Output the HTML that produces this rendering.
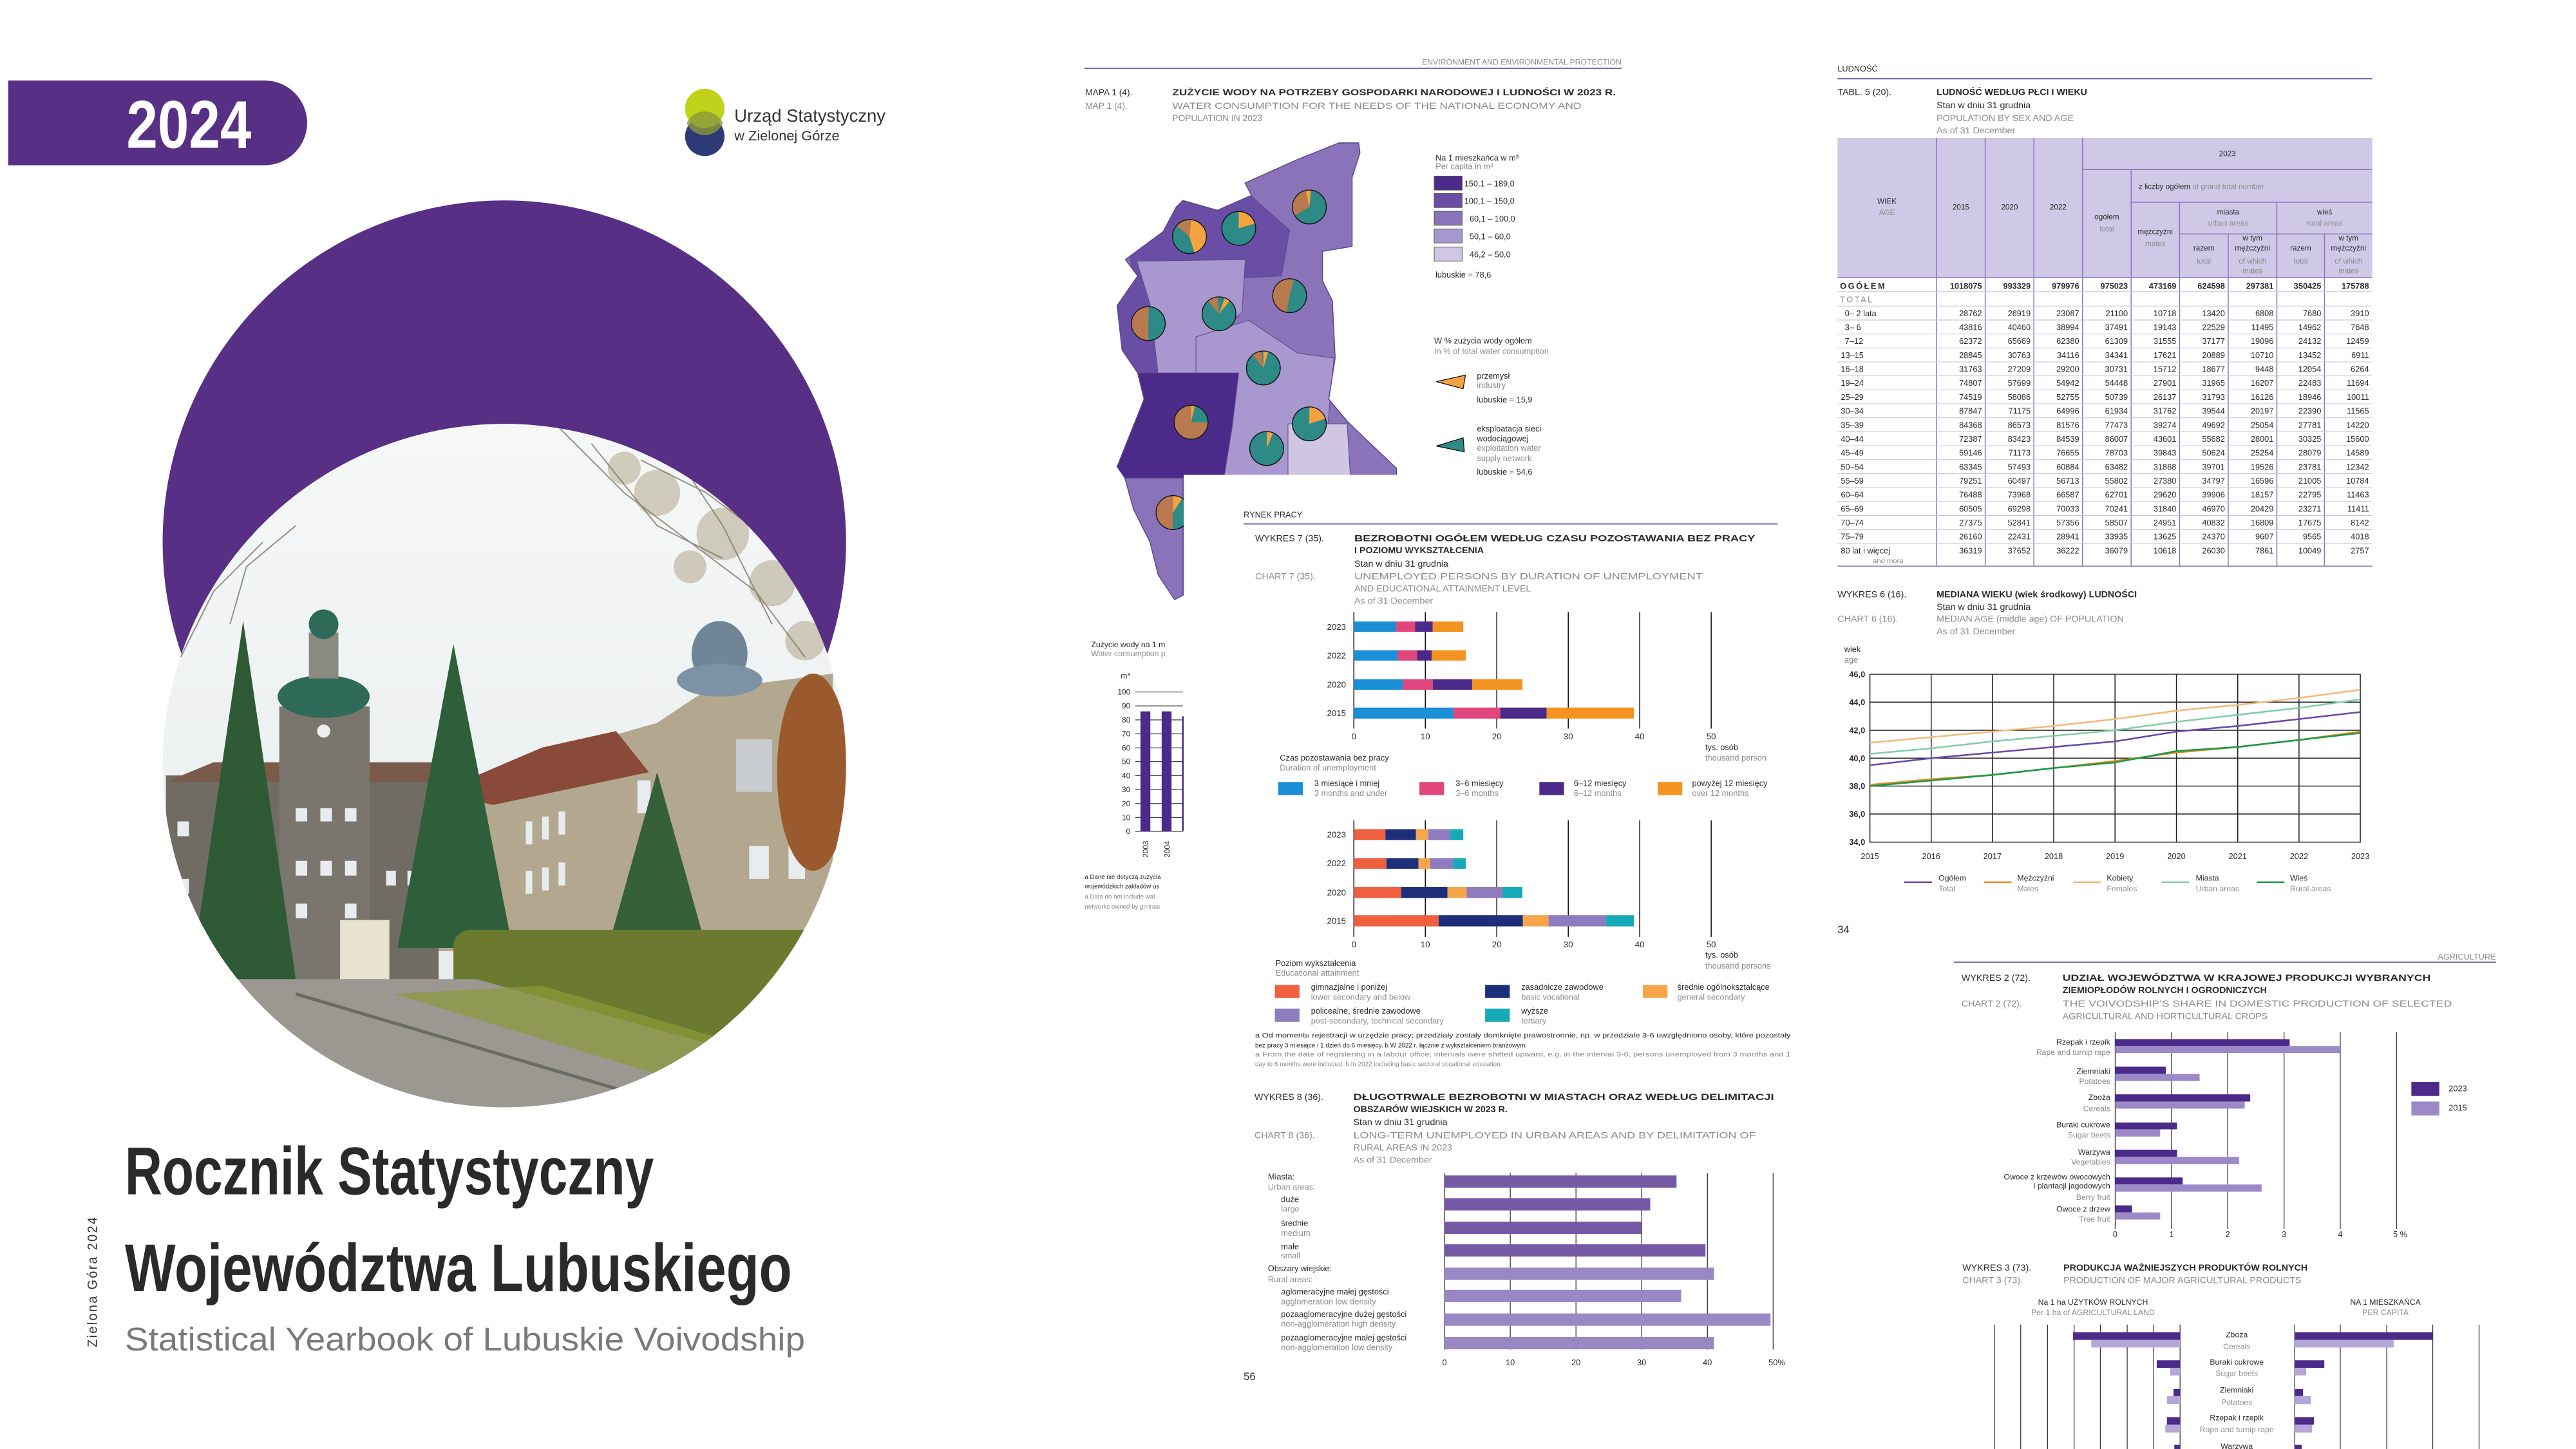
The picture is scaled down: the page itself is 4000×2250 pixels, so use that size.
<!DOCTYPE html>
<html><head><meta charset="utf-8"><style>
html,body{margin:0;padding:0;background:#fff;}
svg{display:block;}
text{font-family:"Liberation Sans",sans-serif;}
.d{fill:#2a2a2a;}
.e{fill:#8a8a8a;}
.b{font-weight:bold;fill:#2a2a2a;}
</style></head><body>
<svg width="4000" height="2250" viewBox="0 0 1568 882" xmlns="http://www.w3.org/2000/svg">
<defs>
<clipPath id="ph"><circle cx="307" cy="466" r="208"/></clipPath>
<clipPath id="mapc"><polygon points="815,87 827,87 827.8,93 823,108 823,150 805,153 805,171 811,183 812.7,218 808.8,243 820.6,257 831,267 850,285 850,292 720.6,292 720.6,362 715,365 705,350 700,330 690,310 684.7,291 680,284 696.4,243 692.5,227 683,213 680,186 692.5,168 685,158 708,141 716,126 720,122 741,128 761.8,118.9 757.8,111.4 790,97"/></clipPath>
<linearGradient id="sky" x1="0" y1="0" x2="0" y2="1"><stop offset="0" stop-color="#f6f8f8"/><stop offset="1" stop-color="#e6eaea"/></linearGradient>
</defs>
<rect width="1568" height="882" fill="#fff"/>

<!-- Banner -->
<path d="M5 49 H161 A26 26 0 0 1 187 75 A26 26 0 0 1 161 100.6 H5 Z" fill="#572f84"/>
<text x="77" y="90" font-size="41" font-weight="bold" fill="#fff" textLength="76" lengthAdjust="spacingAndGlyphs">2024</text>

<!-- Logo -->
<circle cx="429" cy="83" r="12" fill="#2e3a78"/>
<circle cx="429" cy="66" r="12" fill="#c0d31a"/>
<path d="M418 75 A12 12 0 0 1 440 75 A12 12 0 0 1 418 75Z" fill="#8a9a3a" opacity="0.8"/>
<text x="447" y="74" font-size="11" fill="#333" textLength="92" lengthAdjust="spacingAndGlyphs">Urząd Statystyczny</text>
<text x="447" y="85.5" font-size="8.5" fill="#333" textLength="64" lengthAdjust="spacingAndGlyphs">w Zielonej Górze</text>

<!-- Purple circle -->
<circle cx="307" cy="330" r="208" fill="#572f84"/>

<!-- Photo -->
<g clip-path="url(#ph)">
<rect x="95" y="255" width="425" height="425" fill="url(#sky)"/>
<g stroke="#5a5040" stroke-width="0.8" fill="none" opacity="0.6">
<path d="M340 260 L380 300 L420 330 L460 360 L490 400"/><path d="M360 270 L400 320 L440 340"/><path d="M390 280 L430 300 L470 330 L500 350"/><path d="M420 290 L440 320 L470 380"/><path d="M160 330 L130 360 L110 400"/><path d="M180 320 L150 345 L140 380"/>
</g>
<g fill="#8a7a50" opacity="0.35">
<circle cx="400" cy="300" r="14"/><circle cx="440" cy="325" r="16"/><circle cx="470" cy="355" r="14"/><circle cx="420" cy="345" r="10"/><circle cx="380" cy="285" r="10"/><circle cx="490" cy="390" r="12"/>
</g>
<!-- left building -->
<rect x="101" y="472" width="166" height="124" fill="#706c64"/>
<polygon points="101,476 130,464 267,464 267,476" fill="#7a5a4a"/>
<!-- tower -->
<rect x="170" y="430" width="55" height="166" fill="#7a766e"/>
<ellipse cx="197" cy="424" rx="28" ry="13" fill="#2f6a58"/>
<rect x="188" y="385" width="18" height="28" fill="#8a8a80"/>
<ellipse cx="197" cy="380" rx="9" ry="9" fill="#2f6a58"/>
<circle cx="197" cy="445" r="4" fill="#eee"/>
<!-- right building -->
<polygon points="267,480 330,460 400,440 430,420 507,410 507,579 267,579" fill="#b3a88f"/>
<polygon points="267,482 330,455 375,445 395,470 300,490" fill="#8a4a3a"/>
<ellipse cx="438" cy="398" rx="17" ry="20" fill="#6f8598"/>
<ellipse cx="438" cy="414" rx="26" ry="10" fill="#7d92a4"/>
<g fill="#e8ecee">
<rect x="108" y="500" width="7" height="9"/><rect x="108" y="535" width="7" height="9"/><rect x="180" y="492" width="7" height="8"/><rect x="195" y="492" width="7" height="8"/><rect x="210" y="492" width="7" height="8"/>
<rect x="180" y="524" width="7" height="9"/><rect x="195" y="524" width="7" height="9"/><rect x="210" y="524" width="7" height="9"/>
<rect x="180" y="550" width="7" height="9"/><rect x="210" y="550" width="7" height="9"/>
<rect x="235" y="530" width="6" height="9"/><rect x="248" y="530" width="6" height="9"/><rect x="248" y="555" width="6" height="9"/>
<rect x="285" y="510" width="4" height="12"/><rect x="295" y="508" width="4" height="12"/><rect x="285" y="540" width="4" height="12"/><rect x="295" y="538" width="4" height="12"/>
<rect x="320" y="500" width="4" height="14"/><rect x="330" y="497" width="4" height="14"/><rect x="340" y="494" width="4" height="14"/>
<rect x="320" y="530" width="4" height="14"/><rect x="330" y="528" width="4" height="14"/><rect x="340" y="525" width="4" height="14"/>
<rect x="388" y="475" width="8" height="20"/><rect x="456" y="515" width="12" height="20"/><rect x="480" y="515" width="10" height="20"/>
<rect x="448" y="450" width="22" height="32" fill="#c8ccd0"/>
</g>
<!-- trees -->
<polygon points="148,378 180,596 116,596" fill="#2e5a36"/>
<polygon points="276,392 312,577 242,577" fill="#2f5e3a"/>
<polygon points="400,470 428,570 372,570" fill="#35603a"/>
<ellipse cx="495" cy="470" rx="22" ry="60" fill="#9a5a2e"/>
<rect x="207" y="560" width="30" height="36" fill="#e8e2d0"/>
<!-- hedge + ground -->
<rect x="276" y="566" width="230" height="74" rx="10" fill="#6b7a2e"/>
<polygon points="95,596 290,596 520,660 520,690 95,690" fill="#9a9890"/>
<polygon points="240,605 330,600 500,650 420,660" fill="#8c9a3a" opacity="0.7"/>
<path d="M180 605 L400 670" stroke="#6a6a66" stroke-width="2"/>
</g>

<!-- Titles -->
<text x="76" y="727" font-size="41" font-weight="bold" fill="#2a2a2a" textLength="322" lengthAdjust="spacingAndGlyphs">Rocznik Statystyczny</text>
<text x="76" y="786" font-size="41" font-weight="bold" fill="#2a2a2a" textLength="406" lengthAdjust="spacingAndGlyphs">Województwa Lubuskiego</text>
<text x="76" y="822" font-size="20" fill="#7a7a7a" textLength="414" lengthAdjust="spacingAndGlyphs">Statistical Yearbook of Lubuskie Voivodship</text>
<text transform="translate(59,820) rotate(-90)" font-size="8.5" fill="#333" textLength="80" lengthAdjust="spacingAndGlyphs" letter-spacing="1">Zielona Góra 2024</text>

<!-- ================= MAP PAGE ================= -->
<line x1="660" y1="41.6" x2="987" y2="41.6" stroke="#7a66b0" stroke-width="0.8"/>
<text x="987" y="39.5" font-size="4.8" class="e" text-anchor="end">ENVIRONMENT AND ENVIRONMENTAL PROTECTION</text>
<text x="660.6" y="58" font-size="5.4" class="d">MAPA 1 (4).</text>
<text x="660.6" y="66.3" font-size="5.4" class="e">MAP 1 (4).</text>
<text x="713.6" y="58" font-size="5.4" class="b" textLength="270" lengthAdjust="spacingAndGlyphs">ZUŻYCIE WODY NA POTRZEBY GOSPODARKI NARODOWEJ I LUDNOŚCI W 2023 R.</text>
<text x="713.6" y="66.3" font-size="5.4" class="e" textLength="249" lengthAdjust="spacingAndGlyphs">WATER CONSUMPTION FOR THE NEEDS OF THE NATIONAL ECONOMY AND</text>
<text x="713.6" y="73.7" font-size="5.4" class="e">POPULATION IN 2023</text>

<!-- map -->
<g clip-path="url(#mapc)" stroke="#5a4a8a" stroke-width="0.4">
<rect x="670" y="80" width="190" height="300" fill="#8a73b9"/>
<polygon points="680,118 760,118 785,140 780,168 740,170 690,168" fill="#6a4ea6"/>
<polygon points="680,168 726,168 730,243 680,243" fill="#6a4ea6"/>
<polygon points="692,159 758,158 756,190 740,205 728,228 705,228 700,185" fill="#a898cf"/>
<polygon points="728,205 760,195 790,215 812,218 809,250 806,288 745,292 735,260 728,230" fill="#a898cf"/>
<polygon points="680,227 754,227 750,260 745,291 680,291" fill="#4b2a8a"/>
<polygon points="784,258 820,258 822,291 784,291" fill="#cfc6e3"/>
<polygon points="680,291 720,291 720,370 680,370" fill="#8a73b9"/>
</g>
<polygon points="815,87 827,87 827.8,93 823,108 823,150 805,153 805,171 811,183 812.7,218 808.8,243 820.6,257 831,267 850,285 850,292 720.6,292 720.6,362 715,365 705,350 700,330 690,310 684.7,291 680,284 696.4,243 692.5,227 683,213 680,186 692.5,168 685,158 708,141 716,126 720,122 741,128 761.8,118.9 757.8,111.4 790,97" fill="none" stroke="#5a4a8a" stroke-width="0.6"/>
<!-- pies -->
<g stroke="#111" stroke-width="0.5">
<g transform="translate(797,126)"><circle r="10.3" fill="#2e8a86"/><circle r="5.15" fill="none" stroke="#b87a4e" stroke-width="10.3" stroke-dasharray="9.7 40" transform="rotate(150)"/><circle r="5.15" fill="none" stroke="#f5a340" stroke-width="10.3" stroke-dasharray="1.6 40" transform="rotate(258)"/><circle r="10.3" fill="none"/></g>
<g transform="translate(754,139)"><circle r="10.3" fill="#2e8a86"/><circle r="5.15" fill="none" stroke="#f5a340" stroke-width="10.3" stroke-dasharray="6.5 40" transform="rotate(-90)"/><circle r="10.3" fill="none"/></g>
<g transform="translate(724,144)"><circle r="10.3" fill="#2e8a86"/><circle r="5.15" fill="none" stroke="#f5a340" stroke-width="10.3" stroke-dasharray="14.5 40" transform="rotate(-90)"/><circle r="5.15" fill="none" stroke="#b87a4e" stroke-width="10.3" stroke-dasharray="5 40" transform="rotate(220)"/><circle r="10.3" fill="none"/></g>
<g transform="translate(785,180)"><circle r="10.3" fill="#2e8a86"/><circle r="5.15" fill="none" stroke="#b87a4e" stroke-width="10.3" stroke-dasharray="16.5 40" transform="rotate(100)"/><circle r="10.3" fill="none"/></g>
<g transform="translate(742,191)"><circle r="10.3" fill="#2e8a86"/><circle r="5.15" fill="none" stroke="#b87a4e" stroke-width="10.3" stroke-dasharray="3.2 40" transform="rotate(230)"/><circle r="5.15" fill="none" stroke="#f5a340" stroke-width="10.3" stroke-dasharray="1.8 40" transform="rotate(-70)"/><circle r="10.3" fill="none"/></g>
<g transform="translate(699,197)"><circle r="10.3" fill="#2e8a86"/><circle r="5.15" fill="none" stroke="#b87a4e" stroke-width="10.3" stroke-dasharray="16.2 40" transform="rotate(90)"/><circle r="10.3" fill="none"/></g>
<g transform="translate(769,224)"><circle r="10.3" fill="#2e8a86"/><circle r="5.15" fill="none" stroke="#b87a4e" stroke-width="10.3" stroke-dasharray="3 40" transform="rotate(-130)"/><circle r="5.15" fill="none" stroke="#f5a340" stroke-width="10.3" stroke-dasharray="1.5 40" transform="rotate(-90)"/><circle r="10.3" fill="none"/></g>
<g transform="translate(797,258)"><circle r="10.3" fill="#2e8a86"/><circle r="5.15" fill="none" stroke="#f5a340" stroke-width="10.3" stroke-dasharray="6.4 40" transform="rotate(-90)"/><circle r="10.3" fill="none"/></g>
<g transform="translate(725,257)"><circle r="10.3" fill="#2e8a86"/><circle r="5.15" fill="none" stroke="#b87a4e" stroke-width="10.3" stroke-dasharray="24.3 40" transform="rotate(0)"/><circle r="5.15" fill="none" stroke="#f5a340" stroke-width="10.3" stroke-dasharray="1.2 40" transform="rotate(-90)"/><circle r="10.3" fill="none"/></g>
<g transform="translate(771,273)"><circle r="10.3" fill="#2e8a86"/><circle r="5.15" fill="none" stroke="#f5a340" stroke-width="10.3" stroke-dasharray="1.8 40" transform="rotate(-88)"/><circle r="10.3" fill="none"/></g>
<g transform="translate(714,312)"><circle r="10.3" fill="#2e8a86"/><circle r="5.15" fill="none" stroke="#b87a4e" stroke-width="10.3" stroke-dasharray="16 40" transform="rotate(90)"/><circle r="5.15" fill="none" stroke="#f5a340" stroke-width="10.3" stroke-dasharray="3 40" transform="rotate(-90)"/><circle r="10.3" fill="none"/></g>
</g>
<!-- map legend -->
<text x="873.8" y="97.8" font-size="5" class="d">Na 1 mieszkańca w m³</text>
<text x="873.8" y="103" font-size="5" class="e">Per capita in m³</text>
<g stroke="#555" stroke-width="0.4">
<rect x="873" y="107.2" width="17" height="8.5" fill="#4b2a8a"/>
<rect x="873" y="117.8" width="17" height="8.5" fill="#6a4ea6"/>
<rect x="873" y="128.6" width="17" height="8.5" fill="#8a73b9"/>
<rect x="873" y="139.4" width="17" height="8.5" fill="#a898cf"/>
<rect x="873" y="150.4" width="17" height="8.5" fill="#cfc6e3"/>
</g>
<g font-size="5" class="d">
<text x="891.3" y="113.4">150,1 – 189,0</text>
<text x="891.3" y="124">100,1 – 150,0</text>
<text x="894.5" y="134.8">60,1 – 100,0</text>
<text x="894.5" y="145.6">50,1 –   60,0</text>
<text x="894.5" y="156.6">46,2 –   50,0</text>
<text x="873.8" y="169">lubuskie = 78,6</text>
<text x="873" y="209.2">W % zużycia wody ogółem</text>
<text x="899" y="230.5">przemysł</text>
<text x="899" y="245">lubuskie = 15,9</text>
<text x="899" y="262.7">eksploatacja sieci</text>
<text x="899" y="268.8">wodociągowej</text>
<text x="899" y="289">lubuskie = 54,6</text>
</g>
<g font-size="5" class="e">
<text x="873" y="215.5">In % of total water consumption</text>
<text x="899" y="236.1">industry</text>
<text x="899" y="274.4">exploitation water</text>
<text x="899" y="280.7">supply network</text>
</g>
<polygon points="874.3,232.3 892,228.3 890.6,236.6" fill="#f5a340" stroke="#111" stroke-width="0.5"/>
<polygon points="874.3,271.5 890.6,266.5 891.3,275" fill="#2e8a86" stroke="#111" stroke-width="0.5"/>

<!-- left partial water chart -->
<text x="664.2" y="394" font-size="4.8" class="d">Zużycie wody na 1 m</text>
<text x="664.2" y="399.5" font-size="4.8" class="e">Water consumption p</text>
<text x="682.2" y="413" font-size="4.8" class="d">m³</text>
<g stroke="#444" stroke-width="0.5">
<line x1="691" y1="421.2" x2="720" y2="421.2"/><line x1="691" y1="429.7" x2="720" y2="429.7"/><line x1="691" y1="438.2" x2="720" y2="438.2"/><line x1="691" y1="446.7" x2="720" y2="446.7"/><line x1="691" y1="455.2" x2="720" y2="455.2"/><line x1="691" y1="463.6" x2="720" y2="463.6"/><line x1="691" y1="472.1" x2="720" y2="472.1"/><line x1="691" y1="480.6" x2="720" y2="480.6"/><line x1="691" y1="489.1" x2="720" y2="489.1"/><line x1="691" y1="497.6" x2="720" y2="497.6"/><line x1="691" y1="506" x2="720" y2="506"/>
</g>
<rect x="694.2" y="433" width="6" height="73" fill="#4b2a8a"/>
<rect x="707.1" y="433" width="6" height="73" fill="#4b2a8a"/>
<rect x="719.5" y="436" width="1" height="70" fill="#4b2a8a"/>
<g font-size="4.6" class="d" text-anchor="end">
<text x="688" y="422.8">100</text><text x="688" y="431.3">90</text><text x="688" y="439.8">80</text><text x="688" y="448.3">70</text><text x="688" y="456.8">60</text><text x="688" y="465.2">50</text><text x="688" y="473.7">40</text><text x="688" y="482.2">30</text><text x="688" y="490.7">20</text><text x="688" y="499.2">10</text><text x="688" y="507.6">0</text>
</g>
<text transform="translate(699,522) rotate(-90)" font-size="4.6" class="d">2003</text>
<text transform="translate(712,522) rotate(-90)" font-size="4.6" class="d">2004</text>
<g font-size="3.8">
<text x="660.3" y="535" class="d">a Dane nie dotyczą zużycia</text>
<text x="660.3" y="540.8" class="d">wojewódzkich zakładów us</text>
<text x="660.3" y="547" class="e">a Data do not include wat</text>
<text x="660.3" y="553.2" class="e">networks owned by gminas</text>
</g>

<!-- ================= CHART PAGE (middle) ================= -->
<rect x="720.6" y="289" width="385" height="593" fill="#fff"/>
<text x="757" y="315" font-size="5" class="d">RYNEK PRACY</text>
<line x1="757" y1="318.9" x2="1082" y2="318.9" stroke="#7a66b0" stroke-width="0.8"/>
<text x="764" y="329.5" font-size="5.6" class="d">WYKRES 7 (35).</text>
<text x="824.4" y="329.5" font-size="5.6" class="b" textLength="244" lengthAdjust="spacingAndGlyphs">BEZROBOTNI OGÓŁEM WEDŁUG CZASU POZOSTAWANIA BEZ PRACY</text>
<text x="824.4" y="336.8" font-size="5.6" class="b">I POZIOMU WYKSZTAŁCENIA</text>
<text x="824.4" y="345" font-size="5.6" class="d">Stan w dniu 31 grudnia</text>
<text x="764" y="352.6" font-size="5.6" class="e">CHART 7 (35).</text>
<text x="824.4" y="352.6" font-size="5.6" class="e" textLength="212" lengthAdjust="spacingAndGlyphs">UNEMPLOYED PERSONS BY DURATION OF UNEMPLOYMENT</text>
<text x="824.4" y="360" font-size="5.6" class="e">AND EDUCATIONAL ATTAINMENT LEVEL</text>
<text x="824.4" y="367.6" font-size="5.6" class="e">As of 31 December</text>

<g stroke="#111" stroke-width="0.6">
<line x1="824.1" y1="372.6" x2="824.1" y2="443.5"/><line x1="867.6" y1="372.6" x2="867.6" y2="443.5"/><line x1="911.1" y1="372.6" x2="911.1" y2="443.5"/><line x1="954.6" y1="372.6" x2="954.6" y2="443.5"/><line x1="998.1" y1="372.6" x2="998.1" y2="443.5"/><line x1="1041.6" y1="372.6" x2="1041.6" y2="443.5"/>
</g>
<g>
<rect x="824.1" y="378.3" width="25.8" height="6.3" fill="#1a8fd6"/><rect x="849.9" y="378.3" width="11.4" height="6.3" fill="#e0457b"/><rect x="861.3" y="378.3" width="10.8" height="6.3" fill="#4b2a8a"/><rect x="872.1" y="378.3" width="18.6" height="6.3" fill="#f39321"/>
<rect x="824.1" y="395.8" width="26.7" height="6.3" fill="#1a8fd6"/><rect x="850.8" y="395.8" width="11.7" height="6.3" fill="#e0457b"/><rect x="862.5" y="395.8" width="9" height="6.3" fill="#4b2a8a"/><rect x="871.5" y="395.8" width="20.7" height="6.3" fill="#f39321"/>
<rect x="824.1" y="413.4" width="29.7" height="6.5" fill="#1a8fd6"/><rect x="853.8" y="413.4" width="18.3" height="6.5" fill="#e0457b"/><rect x="872.1" y="413.4" width="24" height="6.5" fill="#4b2a8a"/><rect x="896.1" y="413.4" width="30.6" height="6.5" fill="#f39321"/>
<rect x="824.1" y="430.7" width="60.6" height="6.7" fill="#1a8fd6"/><rect x="884.7" y="430.7" width="28.5" height="6.7" fill="#e0457b"/><rect x="913.2" y="430.7" width="28.2" height="6.7" fill="#4b2a8a"/><rect x="941.4" y="430.7" width="53.1" height="6.7" fill="#f39321"/>
</g>
<g font-size="5.2" class="d" text-anchor="end">
<text x="819.3" y="383.3">2023</text><text x="819.3" y="400.8">2022</text><text x="819.3" y="418.5">2020</text><text x="819.3" y="435.9">2015</text>
</g>
<g font-size="5.2" class="d" text-anchor="middle">
<text x="824.1" y="450">0</text><text x="867.6" y="450">10</text><text x="911.1" y="450">20</text><text x="954.6" y="450">30</text><text x="998.1" y="450">40</text><text x="1041.6" y="450">50</text>
</g>
<text x="1038" y="456.5" font-size="5" class="d">tys. osób</text>
<text x="1038" y="463" font-size="5" class="e">thousand person</text>
<text x="779" y="463" font-size="5" class="d">Czas pozostawania bez pracy</text>
<text x="779" y="469" font-size="5" class="e">Duration of unemployment</text>
<rect x="778" y="476" width="15" height="8" fill="#1a8fd6"/>
<rect x="864" y="476" width="15" height="8" fill="#e0457b"/>
<rect x="937" y="476" width="15" height="8" fill="#4b2a8a"/>
<rect x="1009" y="476" width="15" height="8" fill="#f39321"/>
<g font-size="5">
<text x="800" y="478.5" class="d">3 miesiące i mniej</text><text x="800" y="484.5" class="e">3 months and under</text>
<text x="886" y="478.5" class="d">3–6 miesięcy</text><text x="886" y="484.5" class="e">3–6 months</text>
<text x="958" y="478.5" class="d">6–12 miesięcy</text><text x="958" y="484.5" class="e">6–12 months</text>
<text x="1030" y="478.5" class="d">powyżej 12 miesięcy</text><text x="1030" y="484.5" class="e">over 12 months</text>
</g>

<g stroke="#111" stroke-width="0.6">
<line x1="824.1" y1="499.3" x2="824.1" y2="570.3"/><line x1="867.6" y1="499.3" x2="867.6" y2="570.3"/><line x1="911.1" y1="499.3" x2="911.1" y2="570.3"/><line x1="954.6" y1="499.3" x2="954.6" y2="570.3"/><line x1="998.1" y1="499.3" x2="998.1" y2="570.3"/><line x1="1041.6" y1="499.3" x2="1041.6" y2="570.3"/>
</g>
<g>
<rect x="824.1" y="504.7" width="19.2" height="6.6" fill="#ef6040"/><rect x="843.3" y="504.7" width="18.6" height="6.6" fill="#1d2f7a"/><rect x="861.9" y="504.7" width="7.5" height="6.6" fill="#f7a54a"/><rect x="869.4" y="504.7" width="13.2" height="6.6" fill="#8f7bc0"/><rect x="882.6" y="504.7" width="8.1" height="6.6" fill="#16a9b8"/>
<rect x="824.1" y="522.3" width="19.8" height="6.5" fill="#ef6040"/><rect x="843.9" y="522.3" width="19.5" height="6.5" fill="#1d2f7a"/><rect x="863.4" y="522.3" width="7.2" height="6.5" fill="#f7a54a"/><rect x="870.6" y="522.3" width="13.8" height="6.5" fill="#8f7bc0"/><rect x="884.4" y="522.3" width="7.8" height="6.5" fill="#16a9b8"/>
<rect x="824.1" y="539.8" width="28.8" height="6.8" fill="#ef6040"/><rect x="852.9" y="539.8" width="28.2" height="6.8" fill="#1d2f7a"/><rect x="881.1" y="539.8" width="11.7" height="6.8" fill="#f7a54a"/><rect x="892.8" y="539.8" width="21.9" height="6.8" fill="#8f7bc0"/><rect x="914.7" y="539.8" width="12" height="6.8" fill="#16a9b8"/>
<rect x="824.1" y="557.1" width="51.6" height="6.8" fill="#ef6040"/><rect x="875.7" y="557.1" width="51.3" height="6.8" fill="#1d2f7a"/><rect x="927" y="557.1" width="15.6" height="6.8" fill="#f7a54a"/><rect x="942.6" y="557.1" width="35.1" height="6.8" fill="#8f7bc0"/><rect x="977.7" y="557.1" width="16.8" height="6.8" fill="#16a9b8"/>
</g>
<g font-size="5.2" class="d" text-anchor="end">
<text x="819.3" y="509.8">2023</text><text x="819.3" y="527.3">2022</text><text x="819.3" y="545">2020</text><text x="819.3" y="562.3">2015</text>
</g>
<g font-size="5.2" class="d" text-anchor="middle">
<text x="824.1" y="576.7">0</text><text x="867.6" y="576.7">10</text><text x="911.1" y="576.7">20</text><text x="954.6" y="576.7">30</text><text x="998.1" y="576.7">40</text><text x="1041.6" y="576.7">50</text>
</g>
<text x="1038" y="583" font-size="5" class="d">tys. osób</text>
<text x="1038" y="589.5" font-size="5" class="e">thousand persons</text>
<text x="776.4" y="588" font-size="5" class="d">Poziom wykształcenia</text>
<text x="776.4" y="593.8" font-size="5" class="e">Educational attainment</text>
<rect x="776" y="599.5" width="15" height="8" fill="#ef6040"/>
<rect x="904" y="599.5" width="15" height="8" fill="#1d2f7a"/>
<rect x="1000" y="599.5" width="15" height="8" fill="#f7a54a"/>
<rect x="776" y="614" width="15" height="8" fill="#8f7bc0"/>
<rect x="904" y="614" width="15" height="8" fill="#16a9b8"/>
<g font-size="5">
<text x="798" y="602.5" class="d">gimnazjalne i poniżej</text><text x="798" y="608.5" class="e">lower secondary and below</text>
<text x="926" y="602.5" class="d">zasadnicze zawodowe</text><text x="926" y="608.5" class="e">basic vocational</text>
<text x="1021" y="602.5" class="d">średnie ogólnokształcące</text><text x="1021" y="608.5" class="e">general secondary</text>
<text x="798" y="617" class="d">policealne, średnie zawodowe</text><text x="798" y="623" class="e">post-secondary, technical secondary</text>
<text x="926" y="617" class="d">wyższe</text><text x="926" y="623" class="e">tertiary</text>
</g>
<g font-size="3.9">
<text x="764" y="631.5" class="d" textLength="326" lengthAdjust="spacingAndGlyphs">a Od momentu rejestracji w urzędzie pracy; przedziały zostały domknięte prawostronnie, np. w przedziale 3-6 uwzględniono osoby, które pozostały</text>
<text x="764" y="637.5" class="d">bez pracy 3 miesiące i 1 dzień do 6 miesięcy. b W 2022 r. łącznie z wykształceniem branżowym.</text>
<text x="764" y="643" class="e" textLength="326" lengthAdjust="spacingAndGlyphs">a From the date of registering in a labour office; intervals were shifted upward, e.g. in the interval 3-6, persons unemployed from 3 months and 1</text>
<text x="764" y="649" class="e">day to 6 months were included. b In 2022 including basic sectoral vocational education.</text>
</g>

<!-- chart 8 -->
<text x="763.6" y="669.5" font-size="5.6" class="d">WYKRES 8 (36).</text>
<text x="823.8" y="669.5" font-size="5.6" class="b" textLength="256" lengthAdjust="spacingAndGlyphs">DŁUGOTRWALE BEZROBOTNI W MIASTACH ORAZ WEDŁUG DELIMITACJI</text>
<text x="823.8" y="677" font-size="5.6" class="b">OBSZARÓW WIEJSKICH W 2023 R.</text>
<text x="823.8" y="684.8" font-size="5.6" class="d">Stan w dniu 31 grudnia</text>
<text x="763.6" y="692.8" font-size="5.6" class="e">CHART 8 (36).</text>
<text x="823.8" y="692.8" font-size="5.6" class="e" textLength="245" lengthAdjust="spacingAndGlyphs">LONG-TERM UNEMPLOYED IN URBAN AREAS AND BY DELIMITATION OF</text>
<text x="823.8" y="700.3" font-size="5.6" class="e">RURAL AREAS IN 2023</text>
<text x="823.8" y="707.8" font-size="5.6" class="e">As of 31 December</text>
<g stroke="#333" stroke-width="0.5">
<line x1="879.3" y1="714" x2="879.3" y2="821.5"/><line x1="919.3" y1="714" x2="919.3" y2="821.5"/><line x1="959.3" y1="714" x2="959.3" y2="821.5"/><line x1="999.3" y1="714" x2="999.3" y2="821.5"/><line x1="1039.3" y1="714" x2="1039.3" y2="821.5"/><line x1="1079.3" y1="714" x2="1079.3" y2="821.5"/>
</g>
<g fill="#7559a5">
<rect x="879.3" y="715.5" width="141.2" height="7.5"/><rect x="879.3" y="729.3" width="125.2" height="7.5"/><rect x="879.3" y="743.6" width="120" height="7.5"/><rect x="879.3" y="757.4" width="158.8" height="7.5"/>
</g>
<g fill="#9a88c4">
<rect x="879.3" y="771.6" width="164" height="7.5"/><rect x="879.3" y="785.1" width="144" height="7.5"/><rect x="879.3" y="799.5" width="198.4" height="7.5"/><rect x="879.3" y="813.8" width="164" height="7.5"/>
</g>
<g font-size="5">
<text x="771.8" y="718" class="d">Miasta:</text><text x="771.8" y="724.3" class="e">Urban areas:</text>
<text x="779.8" y="731.7" class="d">duże</text><text x="779.8" y="737.5" class="e">large</text>
<text x="779.8" y="746.2" class="d">średnie</text><text x="779.8" y="752.2" class="e">medium</text>
<text x="779.8" y="760.4" class="d">małe</text><text x="779.8" y="766" class="e">small</text>
<text x="771.8" y="773.9" class="d">Obszary wiejskie:</text><text x="771.8" y="780.4" class="e">Rural areas:</text>
<text x="779.8" y="788" class="d">aglomeracyjne małej gęstości</text><text x="779.8" y="794" class="e">agglomeration low density</text>
<text x="779.8" y="801.7" class="d">pozaaglomeracyjne dużej gęstości</text><text x="779.8" y="807.5" class="e">non-agglomeration high density</text>
<text x="779.8" y="815.9" class="d">pozaaglomeracyjne małej gęstości</text><text x="779.8" y="821.9" class="e">non-agglomeration low density</text>
</g>
<g font-size="5" class="d" text-anchor="middle">
<text x="879.3" y="831">0</text><text x="919.3" y="831">10</text><text x="959.3" y="831">20</text><text x="999.3" y="831">30</text><text x="1039.3" y="831">40</text><text x="1081.5" y="831">50%</text>
</g>
<text x="757" y="840" font-size="6.5" class="d">56</text>

<!-- ================= TABLE PAGE ================= -->
<text x="1118.5" y="43.5" font-size="5" class="d">LUDNOŚĆ</text>
<line x1="1118.5" y1="47.9" x2="1444" y2="47.9" stroke="#7a66b0" stroke-width="0.8"/>
<text x="1118.5" y="57.8" font-size="5.6" class="d">TABL. 5 (20).</text>
<text x="1178.8" y="57.8" font-size="5.6" class="b">LUDNOŚĆ WEDŁUG PŁCI I WIEKU</text>
<text x="1178.8" y="65.8" font-size="5.6" class="d">Stan w dniu 31 grudnia</text>
<text x="1178.8" y="73.8" font-size="5.6" class="e">POPULATION BY SEX AND AGE</text>
<text x="1178.8" y="81.2" font-size="5.6" class="e">As of 31 December</text>
<rect x="1118.5" y="83.9" width="325.5" height="85.1" fill="#cfc8e6"/>
<g stroke="#8a78c0" stroke-width="0.6">
<line x1="1178.8" y1="83.9" x2="1178.8" y2="344.6"/>
<line x1="1208.4" y1="83.9" x2="1208.4" y2="344.6"/>
<line x1="1238" y1="83.9" x2="1238" y2="344.6"/>
<line x1="1267.6" y1="83.9" x2="1267.6" y2="344.6"/>
<line x1="1297.2" y1="103.2" x2="1297.2" y2="344.6"/>
<line x1="1326.7" y1="123.1" x2="1326.7" y2="344.6"/>
<line x1="1356.3" y1="142.4" x2="1356.3" y2="344.6"/>
<line x1="1385.9" y1="123.1" x2="1385.9" y2="344.6"/>
<line x1="1414.9" y1="142.4" x2="1414.9" y2="344.6"/>
<line x1="1267.6" y1="103.2" x2="1444" y2="103.2"/>
<line x1="1297.2" y1="123.1" x2="1444" y2="123.1"/>
<line x1="1326.7" y1="142.4" x2="1444" y2="142.4"/>
<line x1="1118.5" y1="169" x2="1444" y2="169"/>
<line x1="1118.5" y1="344.6" x2="1444" y2="344.6"/>
</g>
<g stroke="#c8c0e2" stroke-width="0.4">
<line x1="1118.5" y1="177.5" x2="1444" y2="177.5"/><line x1="1118.5" y1="186.3" x2="1444" y2="186.3"/>
<line x1="1118.5" y1="194.8" x2="1444" y2="194.8"/><line x1="1118.5" y1="203.3" x2="1444" y2="203.3"/><line x1="1118.5" y1="211.8" x2="1444" y2="211.8"/><line x1="1118.5" y1="220.3" x2="1444" y2="220.3"/><line x1="1118.5" y1="228.8" x2="1444" y2="228.8"/><line x1="1118.5" y1="237.3" x2="1444" y2="237.3"/><line x1="1118.5" y1="245.8" x2="1444" y2="245.8"/><line x1="1118.5" y1="254.3" x2="1444" y2="254.3"/><line x1="1118.5" y1="262.8" x2="1444" y2="262.8"/><line x1="1118.5" y1="271.3" x2="1444" y2="271.3"/><line x1="1118.5" y1="279.8" x2="1444" y2="279.8"/><line x1="1118.5" y1="288.3" x2="1444" y2="288.3"/><line x1="1118.5" y1="296.8" x2="1444" y2="296.8"/><line x1="1118.5" y1="305.3" x2="1444" y2="305.3"/><line x1="1118.5" y1="313.8" x2="1444" y2="313.8"/><line x1="1118.5" y1="322.3" x2="1444" y2="322.3"/><line x1="1118.5" y1="330.8" x2="1444" y2="330.8"/>
</g>
<g font-size="4.6" text-anchor="middle">
<text x="1148.6" y="124" class="d">WIEK</text><text x="1148.6" y="131" class="e">AGE</text>
<text x="1193.6" y="127.6" class="d">2015</text><text x="1223.2" y="127.6" class="d">2020</text><text x="1252.8" y="127.6" class="d">2022</text>
<text x="1355.8" y="95" class="d">2023</text>
<text x="1340" y="115" class="d">z liczby ogółem <tspan class="e">   of grand total number</tspan></text>
<text x="1282.4" y="133.5" class="d">ogółem</text><text x="1282.4" y="141" class="e">total</text>
<text x="1311.9" y="142.5" class="d">mężczyźni</text><text x="1311.9" y="150" class="e">males</text>
<text x="1356.3" y="130.5" class="d">miasta</text><text x="1356.3" y="137.5" class="e">urban areas</text>
<text x="1415" y="130.5" class="d">wieś</text><text x="1415" y="137.5" class="e">rural areas</text>
<text x="1341.5" y="152.5" class="d">razem</text><text x="1341.5" y="160.5" class="e">total</text>
<text x="1371.1" y="146.5" class="d">w tym</text><text x="1371.1" y="152.5" class="d">mężczyźni</text><text x="1371.1" y="160.5" class="e">of which</text><text x="1371.1" y="166.5" class="e">males</text>
<text x="1400.4" y="152.5" class="d">razem</text><text x="1400.4" y="160.5" class="e">total</text>
<text x="1429.5" y="146.5" class="d">w tym</text><text x="1429.5" y="152.5" class="d">mężczyźni</text><text x="1429.5" y="160.5" class="e">of which</text><text x="1429.5" y="166.5" class="e">males</text>
</g>
<text x="1120" y="175.8" font-size="5" class="b" letter-spacing="1">OGÓŁEM</text>
<text x="1120" y="184" font-size="5" class="e" letter-spacing="1">TOTAL</text>
<g font-size="5" text-anchor="end" class="b">
<text y="175.8"><tspan x="1206.4">1018075</tspan><tspan x="1236">993329</tspan><tspan x="1265.6">979976</tspan><tspan x="1295.2">975023</tspan><tspan x="1324.7">473169</tspan><tspan x="1354.3">624598</tspan><tspan x="1383.9">297381</tspan><tspan x="1412.9">350425</tspan><tspan x="1442">175788</tspan></text>
</g>
<g font-size="5" class="d">
<text x="1123" y="192.4">0– 2 lata</text><text x="1123" y="200.9">3– 6</text><text x="1123" y="209.4">7–12</text><text x="1120.5" y="217.9">13–15</text><text x="1120.5" y="226.4">16–18</text><text x="1120.5" y="234.9">19–24</text><text x="1120.5" y="243.4">25–29</text><text x="1120.5" y="251.9">30–34</text><text x="1120.5" y="260.4">35–39</text><text x="1120.5" y="268.9">40–44</text><text x="1120.5" y="277.4">45–49</text><text x="1120.5" y="285.9">50–54</text><text x="1120.5" y="294.4">55–59</text><text x="1120.5" y="302.9">60–64</text><text x="1120.5" y="311.4">65–69</text><text x="1120.5" y="319.9">70–74</text><text x="1120.5" y="328.4">75–79</text><text x="1120.5" y="336.9">80 lat i więcej</text>
<text x="1140" y="342.8" class="e" font-size="4.4">and more</text>
</g>
<g font-size="5" text-anchor="end" class="d">
<text y="192.4"><tspan x="1206.4">28762</tspan><tspan x="1236">26919</tspan><tspan x="1265.6">23087</tspan><tspan x="1295.2">21100</tspan><tspan x="1324.7">10718</tspan><tspan x="1354.3">13420</tspan><tspan x="1383.9">6808</tspan><tspan x="1412.9">7680</tspan><tspan x="1442">3910</tspan></text>
<text y="200.9"><tspan x="1206.4">43816</tspan><tspan x="1236">40460</tspan><tspan x="1265.6">38994</tspan><tspan x="1295.2">37491</tspan><tspan x="1324.7">19143</tspan><tspan x="1354.3">22529</tspan><tspan x="1383.9">11495</tspan><tspan x="1412.9">14962</tspan><tspan x="1442">7648</tspan></text>
<text y="209.4"><tspan x="1206.4">62372</tspan><tspan x="1236">65669</tspan><tspan x="1265.6">62380</tspan><tspan x="1295.2">61309</tspan><tspan x="1324.7">31555</tspan><tspan x="1354.3">37177</tspan><tspan x="1383.9">19096</tspan><tspan x="1412.9">24132</tspan><tspan x="1442">12459</tspan></text>
<text y="217.9"><tspan x="1206.4">28845</tspan><tspan x="1236">30763</tspan><tspan x="1265.6">34116</tspan><tspan x="1295.2">34341</tspan><tspan x="1324.7">17621</tspan><tspan x="1354.3">20889</tspan><tspan x="1383.9">10710</tspan><tspan x="1412.9">13452</tspan><tspan x="1442">6911</tspan></text>
<text y="226.4"><tspan x="1206.4">31763</tspan><tspan x="1236">27209</tspan><tspan x="1265.6">29200</tspan><tspan x="1295.2">30731</tspan><tspan x="1324.7">15712</tspan><tspan x="1354.3">18677</tspan><tspan x="1383.9">9448</tspan><tspan x="1412.9">12054</tspan><tspan x="1442">6264</tspan></text>
<text y="234.9"><tspan x="1206.4">74807</tspan><tspan x="1236">57699</tspan><tspan x="1265.6">54942</tspan><tspan x="1295.2">54448</tspan><tspan x="1324.7">27901</tspan><tspan x="1354.3">31965</tspan><tspan x="1383.9">16207</tspan><tspan x="1412.9">22483</tspan><tspan x="1442">11694</tspan></text>
<text y="243.4"><tspan x="1206.4">74519</tspan><tspan x="1236">58086</tspan><tspan x="1265.6">52755</tspan><tspan x="1295.2">50739</tspan><tspan x="1324.7">26137</tspan><tspan x="1354.3">31793</tspan><tspan x="1383.9">16126</tspan><tspan x="1412.9">18946</tspan><tspan x="1442">10011</tspan></text>
<text y="251.9"><tspan x="1206.4">87847</tspan><tspan x="1236">71175</tspan><tspan x="1265.6">64996</tspan><tspan x="1295.2">61934</tspan><tspan x="1324.7">31762</tspan><tspan x="1354.3">39544</tspan><tspan x="1383.9">20197</tspan><tspan x="1412.9">22390</tspan><tspan x="1442">11565</tspan></text>
<text y="260.4"><tspan x="1206.4">84368</tspan><tspan x="1236">86573</tspan><tspan x="1265.6">81576</tspan><tspan x="1295.2">77473</tspan><tspan x="1324.7">39274</tspan><tspan x="1354.3">49692</tspan><tspan x="1383.9">25054</tspan><tspan x="1412.9">27781</tspan><tspan x="1442">14220</tspan></text>
<text y="268.9"><tspan x="1206.4">72387</tspan><tspan x="1236">83423</tspan><tspan x="1265.6">84539</tspan><tspan x="1295.2">86007</tspan><tspan x="1324.7">43601</tspan><tspan x="1354.3">55682</tspan><tspan x="1383.9">28001</tspan><tspan x="1412.9">30325</tspan><tspan x="1442">15600</tspan></text>
<text y="277.4"><tspan x="1206.4">59146</tspan><tspan x="1236">71173</tspan><tspan x="1265.6">76655</tspan><tspan x="1295.2">78703</tspan><tspan x="1324.7">39843</tspan><tspan x="1354.3">50624</tspan><tspan x="1383.9">25254</tspan><tspan x="1412.9">28079</tspan><tspan x="1442">14589</tspan></text>
<text y="285.9"><tspan x="1206.4">63345</tspan><tspan x="1236">57493</tspan><tspan x="1265.6">60884</tspan><tspan x="1295.2">63482</tspan><tspan x="1324.7">31868</tspan><tspan x="1354.3">39701</tspan><tspan x="1383.9">19526</tspan><tspan x="1412.9">23781</tspan><tspan x="1442">12342</tspan></text>
<text y="294.4"><tspan x="1206.4">79251</tspan><tspan x="1236">60497</tspan><tspan x="1265.6">56713</tspan><tspan x="1295.2">55802</tspan><tspan x="1324.7">27380</tspan><tspan x="1354.3">34797</tspan><tspan x="1383.9">16596</tspan><tspan x="1412.9">21005</tspan><tspan x="1442">10784</tspan></text>
<text y="302.9"><tspan x="1206.4">76488</tspan><tspan x="1236">73968</tspan><tspan x="1265.6">66587</tspan><tspan x="1295.2">62701</tspan><tspan x="1324.7">29620</tspan><tspan x="1354.3">39906</tspan><tspan x="1383.9">18157</tspan><tspan x="1412.9">22795</tspan><tspan x="1442">11463</tspan></text>
<text y="311.4"><tspan x="1206.4">60505</tspan><tspan x="1236">69298</tspan><tspan x="1265.6">70033</tspan><tspan x="1295.2">70241</tspan><tspan x="1324.7">31840</tspan><tspan x="1354.3">46970</tspan><tspan x="1383.9">20429</tspan><tspan x="1412.9">23271</tspan><tspan x="1442">11411</tspan></text>
<text y="319.9"><tspan x="1206.4">27375</tspan><tspan x="1236">52841</tspan><tspan x="1265.6">57356</tspan><tspan x="1295.2">58507</tspan><tspan x="1324.7">24951</tspan><tspan x="1354.3">40832</tspan><tspan x="1383.9">16809</tspan><tspan x="1412.9">17675</tspan><tspan x="1442">8142</tspan></text>
<text y="328.4"><tspan x="1206.4">26160</tspan><tspan x="1236">22431</tspan><tspan x="1265.6">28941</tspan><tspan x="1295.2">33935</tspan><tspan x="1324.7">13625</tspan><tspan x="1354.3">24370</tspan><tspan x="1383.9">9607</tspan><tspan x="1412.9">9565</tspan><tspan x="1442">4018</tspan></text>
<text y="336.9"><tspan x="1206.4">36319</tspan><tspan x="1236">37652</tspan><tspan x="1265.6">36222</tspan><tspan x="1295.2">36079</tspan><tspan x="1324.7">10618</tspan><tspan x="1354.3">26030</tspan><tspan x="1383.9">7861</tspan><tspan x="1412.9">10049</tspan><tspan x="1442">2757</tspan></text>
</g>

<!-- chart 6 -->
<text x="1118.5" y="363.5" font-size="5.6" class="d">WYKRES 6 (16).</text>
<text x="1178.8" y="363.5" font-size="5.6" class="b">MEDIANA WIEKU (wiek środkowy) LUDNOŚCI</text>
<text x="1178.8" y="371.2" font-size="5.6" class="d">Stan w dniu 31 grudnia</text>
<text x="1118.5" y="378.5" font-size="5.6" class="e">CHART 6 (16).</text>
<text x="1178.8" y="378.5" font-size="5.6" class="e">MEDIAN AGE (middle age) OF POPULATION</text>
<text x="1178.8" y="386.2" font-size="5.6" class="e">As of 31 December</text>
<text x="1122.6" y="397" font-size="5" class="d">wiek</text>
<text x="1122.6" y="403.3" font-size="5" class="e">age</text>
<g stroke="#222" stroke-width="0.6" fill="none">
<rect x="1138.2" y="410.4" width="298.5" height="102.2"/>
<path d="M1138.2 427.4H1436.7M1138.2 444.5H1436.7M1138.2 461.5H1436.7M1138.2 478.5H1436.7M1138.2 495.5H1436.7"/>
<path d="M1175.5 410.4V512.6M1212.8 410.4V512.6M1250.1 410.4V512.6M1287.4 410.4V512.6M1324.8 410.4V512.6M1362.1 410.4V512.6M1399.4 410.4V512.6"/>
</g>
<g fill="none" stroke-width="1">
<polyline stroke="#f5b979" points="1138.2,452.1 1175.5,448.7 1212.8,445.3 1250.1,441.9 1287.4,437.7 1324.8,432.6 1362.1,429.1 1399.4,424.9 1436.7,419.8"/>
<polyline stroke="#7fcfa5" points="1138.2,458.9 1175.5,455.5 1212.8,451.3 1250.1,447.9 1287.4,444.5 1324.8,439.4 1362.1,435.1 1399.4,430.9 1436.7,425.7"/>
<polyline stroke="#6b47a8" points="1138.2,465.8 1175.5,461.5 1212.8,458.1 1250.1,454.7 1287.4,451.3 1324.8,445.3 1362.1,441.9 1399.4,437.7 1436.7,433.4"/>
<polyline stroke="#e8891f" points="1138.2,477.7 1175.5,474.3 1212.8,471.7 1250.1,467.5 1287.4,463.2 1324.8,458.1 1362.1,454.7 1399.4,450.4 1436.7,445.3"/>
<polyline stroke="#1a9a4a" points="1138.2,478.5 1175.5,475.1 1212.8,471.7 1250.1,467.5 1287.4,464.1 1324.8,457.2 1362.1,454.7 1399.4,450.4 1436.7,446.2"/>
</g>
<g font-size="5" class="b" text-anchor="end">
<text x="1135.3" y="412.2">46,0</text><text x="1135.3" y="429.2">44,0</text><text x="1135.3" y="446.3">42,0</text><text x="1135.3" y="463.3">40,0</text><text x="1135.3" y="480.3">38,0</text><text x="1135.3" y="497.3">36,0</text><text x="1135.3" y="514.4">34,0</text>
</g>
<g font-size="5" class="d" text-anchor="middle">
<text x="1138.2" y="523">2015</text><text x="1175.5" y="523">2016</text><text x="1212.8" y="523">2017</text><text x="1250.1" y="523">2018</text><text x="1287.4" y="523">2019</text><text x="1324.8" y="523">2020</text><text x="1362.1" y="523">2021</text><text x="1399.4" y="523">2022</text><text x="1436.7" y="523">2023</text>
</g>
<g stroke-width="1">
<line x1="1159" y1="537" x2="1176" y2="537" stroke="#6b47a8"/>
<line x1="1207.6" y1="537" x2="1224.4" y2="537" stroke="#e8891f"/>
<line x1="1261.8" y1="537" x2="1278.6" y2="537" stroke="#f5b979"/>
<line x1="1315.7" y1="537" x2="1332.5" y2="537" stroke="#7fcfa5"/>
<line x1="1373.7" y1="537" x2="1390.5" y2="537" stroke="#1a9a4a"/>
</g>
<g font-size="4.8">
<text x="1180" y="536" class="d">Ogółem</text><text x="1180" y="542.5" class="e">Total</text>
<text x="1227.9" y="536" class="d">Mężczyźni</text><text x="1227.9" y="542.5" class="e">Males</text>
<text x="1282.4" y="536" class="d">Kobiety</text><text x="1282.4" y="542.5" class="e">Females</text>
<text x="1336.6" y="536" class="d">Miasta</text><text x="1336.6" y="542.5" class="e">Urban areas</text>
<text x="1394" y="536" class="d">Wieś</text><text x="1394" y="542.5" class="e">Rural areas</text>
</g>
<text x="1118.5" y="568" font-size="6.5" class="d">34</text>

<!-- ================= AGRICULTURE PAGE ================= -->
<text x="1519.3" y="584" font-size="5" class="e" text-anchor="end">AGRICULTURE</text>
<line x1="1189.3" y1="585.7" x2="1519.3" y2="585.7" stroke="#7a66b0" stroke-width="0.8"/>
<text x="1194" y="597" font-size="5.6" class="d">WYKRES 2 (72).</text>
<text x="1255.5" y="597" font-size="5.6" class="b" textLength="224" lengthAdjust="spacingAndGlyphs">UDZIAŁ WOJEWÓDZTWA W KRAJOWEJ PRODUKCJI WYBRANYCH</text>
<text x="1255.5" y="604.5" font-size="5.6" class="b">ZIEMIOPŁODÓW ROLNYCH I OGRODNICZYCH</text>
<text x="1194" y="612.8" font-size="5.6" class="e">CHART 2 (72).</text>
<text x="1255.5" y="612.8" font-size="5.6" class="e" textLength="237" lengthAdjust="spacingAndGlyphs">THE VOIVODSHIP'S SHARE IN DOMESTIC PRODUCTION OF SELECTED</text>
<text x="1255.5" y="620.3" font-size="5.6" class="e">AGRICULTURAL AND HORTICULTURAL CROPS</text>
<g stroke="#333" stroke-width="0.5">
<line x1="1287.5" y1="628.2" x2="1287.5" y2="748"/><line x1="1321.8" y1="628.2" x2="1321.8" y2="748"/><line x1="1356" y1="628.2" x2="1356" y2="748"/><line x1="1390.3" y1="628.2" x2="1390.3" y2="748"/><line x1="1424.5" y1="628.2" x2="1424.5" y2="748"/><line x1="1458.8" y1="628.2" x2="1458.8" y2="748"/>
</g>
<g fill="#4b2a8a">
<rect x="1287.5" y="632.5" width="106.2" height="4.2"/><rect x="1287.5" y="649.3" width="30.8" height="4.4"/><rect x="1287.5" y="666.1" width="82.2" height="4.4"/><rect x="1287.5" y="683.3" width="37.7" height="4.1"/><rect x="1287.5" y="699.9" width="37.7" height="4.3"/><rect x="1287.5" y="716.7" width="41.1" height="4.3"/><rect x="1287.5" y="733.7" width="10.3" height="4.3"/>
</g>
<g fill="#9c8ac8">
<rect x="1287.5" y="636.7" width="137" height="4.3"/><rect x="1287.5" y="653.7" width="51.4" height="4.3"/><rect x="1287.5" y="670.5" width="78.8" height="4.3"/><rect x="1287.5" y="687.4" width="27.4" height="4.4"/><rect x="1287.5" y="704.2" width="75.4" height="4.4"/><rect x="1287.5" y="721" width="89.1" height="4.4"/><rect x="1287.5" y="738" width="27.4" height="4.3"/>
</g>
<g font-size="4.8" text-anchor="end">
<text x="1284.5" y="635.8" class="d">Rzepak i rzepik</text><text x="1284.5" y="642.1" class="e">Rape and turnip rape</text>
<text x="1284.5" y="653.6" class="d">Ziemniaki</text><text x="1284.5" y="659.8" class="e">Potatoes</text>
<text x="1284.5" y="669.5" class="d">Zboża</text><text x="1284.5" y="676.5" class="e">Cereals</text>
<text x="1284.5" y="686.3" class="d">Buraki cukrowe</text><text x="1284.5" y="692.5" class="e">Sugar beets</text>
<text x="1284.5" y="702.9" class="d">Warzywa</text><text x="1284.5" y="709" class="e">Vegetables</text>
<text x="1284.5" y="717.9" class="d">Owoce z krzewów owocowych</text><text x="1284.5" y="723.5" class="d">i plantacji jagodowych</text><text x="1284.5" y="730.4" class="e">Berry fruit</text>
<text x="1284.5" y="737.6" class="d">Owoce z drzew</text><text x="1284.5" y="743.7" class="e">Tree fruit</text>
</g>
<g font-size="5" class="d" text-anchor="middle">
<text x="1287.5" y="753">0</text><text x="1321.8" y="753">1</text><text x="1356" y="753">2</text><text x="1390.3" y="753">3</text><text x="1424.5" y="753">4</text><text x="1461" y="753">5 %</text>
</g>
<rect x="1467.8" y="658.6" width="17" height="8.5" fill="#4b2a8a"/>
<rect x="1467.8" y="670.5" width="17" height="8.5" fill="#9c8ac8"/>
<text x="1490.5" y="664.2" font-size="5" class="d">2023</text>
<text x="1490.5" y="676" font-size="5" class="d">2015</text>

<text x="1194.5" y="773.4" font-size="5.6" class="d">WYKRES 3 (73).</text>
<text x="1256" y="773.4" font-size="5.6" class="b">PRODUKCJA WAŻNIEJSZYCH PRODUKTÓW ROLNYCH</text>
<text x="1194.5" y="781" font-size="5.6" class="e">CHART 3 (73).</text>
<text x="1256" y="781" font-size="5.6" class="e">PRODUCTION OF MAJOR AGRICULTURAL PRODUCTS</text>
<g font-size="4.8" text-anchor="middle">
<text x="1274" y="794.2" class="d">Na 1 ha UŻYTKÓW ROLNYCH</text><text x="1274" y="800.5" class="e">Per 1 ha of AGRICULTURAL LAND</text>
<text x="1452" y="794.2" class="d">NA 1 MIESZKAŃCA</text><text x="1452" y="800.5" class="e">PER CAPITA</text>
</g>
<g stroke="#333" stroke-width="0.5">
<line x1="1214" y1="806.3" x2="1214" y2="882"/><line x1="1230" y1="806.3" x2="1230" y2="882"/><line x1="1246.3" y1="806.3" x2="1246.3" y2="882"/><line x1="1262.5" y1="806.3" x2="1262.5" y2="882"/><line x1="1278.5" y1="806.3" x2="1278.5" y2="882"/><line x1="1294.8" y1="806.3" x2="1294.8" y2="882"/><line x1="1311" y1="806.3" x2="1311" y2="882"/><line x1="1327" y1="806.3" x2="1327" y2="882"/>
<line x1="1396.8" y1="806.3" x2="1396.8" y2="882"/><line x1="1424.5" y1="806.3" x2="1424.5" y2="882"/><line x1="1452.8" y1="806.3" x2="1452.8" y2="882"/><line x1="1480.8" y1="806.3" x2="1480.8" y2="882"/><line x1="1509" y1="806.3" x2="1509" y2="882"/>
</g>
<g fill="#4b2a8a">
<rect x="1261.8" y="810.9" width="65.2" height="4.7"/><rect x="1312.8" y="828" width="14.2" height="4.6"/><rect x="1323" y="845.5" width="4" height="4.3"/><rect x="1319" y="862.6" width="8" height="4.6"/><rect x="1323.5" y="879.5" width="3.5" height="3"/>
<rect x="1396.8" y="810.9" width="84" height="4.7"/><rect x="1396.8" y="828" width="18" height="4.6"/><rect x="1396.8" y="845.5" width="5" height="4.3"/><rect x="1396.8" y="862.6" width="11.7" height="4.6"/><rect x="1396.8" y="879.5" width="4.2" height="3"/>
</g>
<g fill="#b4a6d8">
<rect x="1273" y="815.6" width="54" height="4.6"/><rect x="1321" y="832.6" width="6" height="4.6"/><rect x="1319" y="849.8" width="8" height="4.9"/><rect x="1318" y="867.2" width="9" height="4.8"/>
<rect x="1396.8" y="815.6" width="60.2" height="4.6"/><rect x="1396.8" y="832.6" width="7" height="4.6"/><rect x="1396.8" y="849.8" width="9.7" height="4.9"/><rect x="1396.8" y="867.2" width="10.5" height="4.8"/>
</g>
<g font-size="4.8" text-anchor="middle">
<text x="1361.5" y="814" class="d">Zboża</text><text x="1361.5" y="821.3" class="e">Cereals</text>
<text x="1361.5" y="830.6" class="d">Buraki cukrowe</text><text x="1361.5" y="837.5" class="e">Sugar beets</text>
<text x="1361.5" y="847.7" class="d">Ziemniaki</text><text x="1361.5" y="855.2" class="e">Potatoes</text>
<text x="1361.5" y="864.5" class="d">Rzepak i rzepik</text><text x="1361.5" y="871.8" class="e">Rape and turnip rape</text>
<text x="1361.5" y="882" class="d">Warzywa</text>
</g>
</svg>
</body></html>
